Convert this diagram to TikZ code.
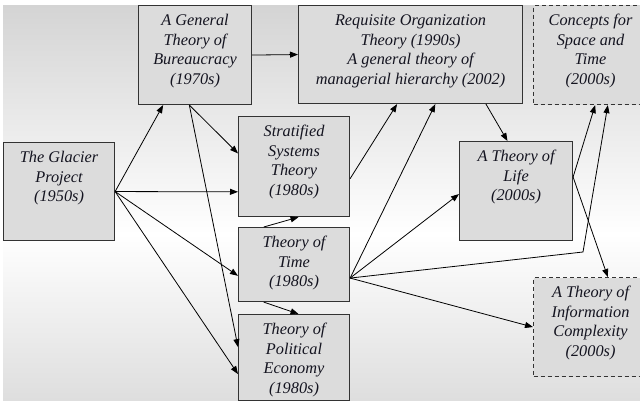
\documentclass[tikz,border=0pt]{standalone}
\usepackage{fontspec}
\setmainfont{Liberation Serif}
\usetikzlibrary{arrows.meta,calc}
\definecolor{boxfill}{HTML}{DCDCDC}
\definecolor{boxline}{HTML}{333333}
\definecolor{txtcol}{HTML}{141420}
\definecolor{bgtop}{HTML}{D4D4D4}
\definecolor{bgbot}{HTML}{DEDEDE}
\pgfdeclareverticalshading{bgshade}{100bp}{color(0bp)=(bgbot); color(25bp)=(bgbot); color(46bp)=(white); color(75bp)=(bgtop); color(100bp)=(bgtop)}
\newcommand\boxtext[3]{\parbox[t][#2][t]{#1}{\centering\vspace*{6.5pt}\strut #3}}
\tikzset{
  box/.style={rectangle, draw=boxline, fill=boxfill, line width=1.1pt, inner sep=0pt,
    anchor=north west, text=txtcol, font=\itshape\fontsize{16.3}{19.5}\selectfont},
  dashbox/.style={box, dash pattern=on 4pt off 3pt},
  conn/.style={draw=black, line width=0.8pt, -{Triangle[length=8pt,width=6pt]}},
}
\begin{document}
\begin{tikzpicture}[x=1pt,y=-1pt]
\useasboundingbox (0,0) rectangle (640,402);
\clip (0,0) rectangle (640,402);
\shade[shading=bgshade] (3,5) rectangle (640,400);

\node[box] (glacier) at (3,142) {\boxtext{111pt}{98pt}{The Glacier\\Project\\(1950s)}};
\node[box] (bur) at (138,5) {\boxtext{113pt}{99pt}{A General\\Theory of\\Bureaucracy\\(1970s)}};
\node[box] (req) at (298,5) {\boxtext{224pt}{98pt}{Requisite Organization\\Theory (1990s)\\A general theory of\\managerial hierarchy (2002)}};
\node[dashbox] (con) at (533,5) {\boxtext{114pt}{99pt}{Concepts for\\Space and\\Time\\(2000s)}};
\node[box] (str) at (238,116) {\boxtext{111pt}{100pt}{Stratified\\Systems\\Theory\\(1980s)}};
\node[box] (time) at (238,227) {\boxtext{111pt}{74pt}{Theory of\\Time\\(1980s)}};
\node[box] (pol) at (238,314) {\boxtext{111pt}{86pt}{Theory of\\Political\\Economy\\(1980s)}};
\node[box] (life) at (459,141) {\boxtext{113pt}{99pt}{A Theory of\\Life\\(2000s)}};
\node[dashbox] (info) at (533,277) {\boxtext{114pt}{99pt}{A Theory of\\Information\\Complexity\\(2000s)}};

\coordinate (bend) at (583,252);
\coordinate (tE) at ($(time.south east)!0.32!(time.north east)$);
\coordinate (lE) at ($(life.south east)!0.64!(life.north east)$);
\coordinate (bS) at ($(bur.south west)!0.45!(bur.south east)$);

\draw[conn] (glacier.east) -- ($(bur.south west)!0.22!(bur.south east)$);
\draw[conn] (glacier.east) -- ($(str.south west)!0.25!(str.north west)$);
\draw[conn] (glacier.east) -- ($(time.south west)!0.35!(time.north west)$);
\draw[conn] (glacier.east) -- ($(pol.south west)!0.31!(pol.north west)$);
\draw[conn] (bur.east) -- (req.west);
\draw[conn] (bS) -- ($(str.south west)!0.63!(str.north west)$);
\draw[conn] (bS) -- ($(pol.south west)!0.62!(pol.north west)$);
\draw[conn] ($(str.south east)!0.38!(str.north east)$) -- ($(req.south west)!0.44!(req.south east)$);
\draw[conn] ($(time.north west)!0.23!(time.north east)$) -- ($(str.south west)!0.54!(str.south east)$);
\draw[conn] ($(time.south west)!0.23!(time.south east)$) -- ($(pol.north west)!0.54!(pol.north east)$);
\draw[conn] (tE) -- ($(req.south west)!0.61!(req.south east)$);
\draw[conn] (tE) -- ($(life.south west)!0.47!(life.north west)$);
\draw[conn] (tE) -- (bend) -- ($(con.south west)!0.65!(con.south east)$);
\draw[conn] (tE) -- (info.west);
\draw[conn] ($(req.south west)!0.835!(req.south east)$) -- ($(life.north west)!0.425!(life.north east)$);
\draw[conn] (lE) -- ($(con.south west)!0.54!(con.south east)$);
\draw[conn] (lE) -- ($(info.north west)!0.65!(info.north east)$);
\end{tikzpicture}
\end{document}
